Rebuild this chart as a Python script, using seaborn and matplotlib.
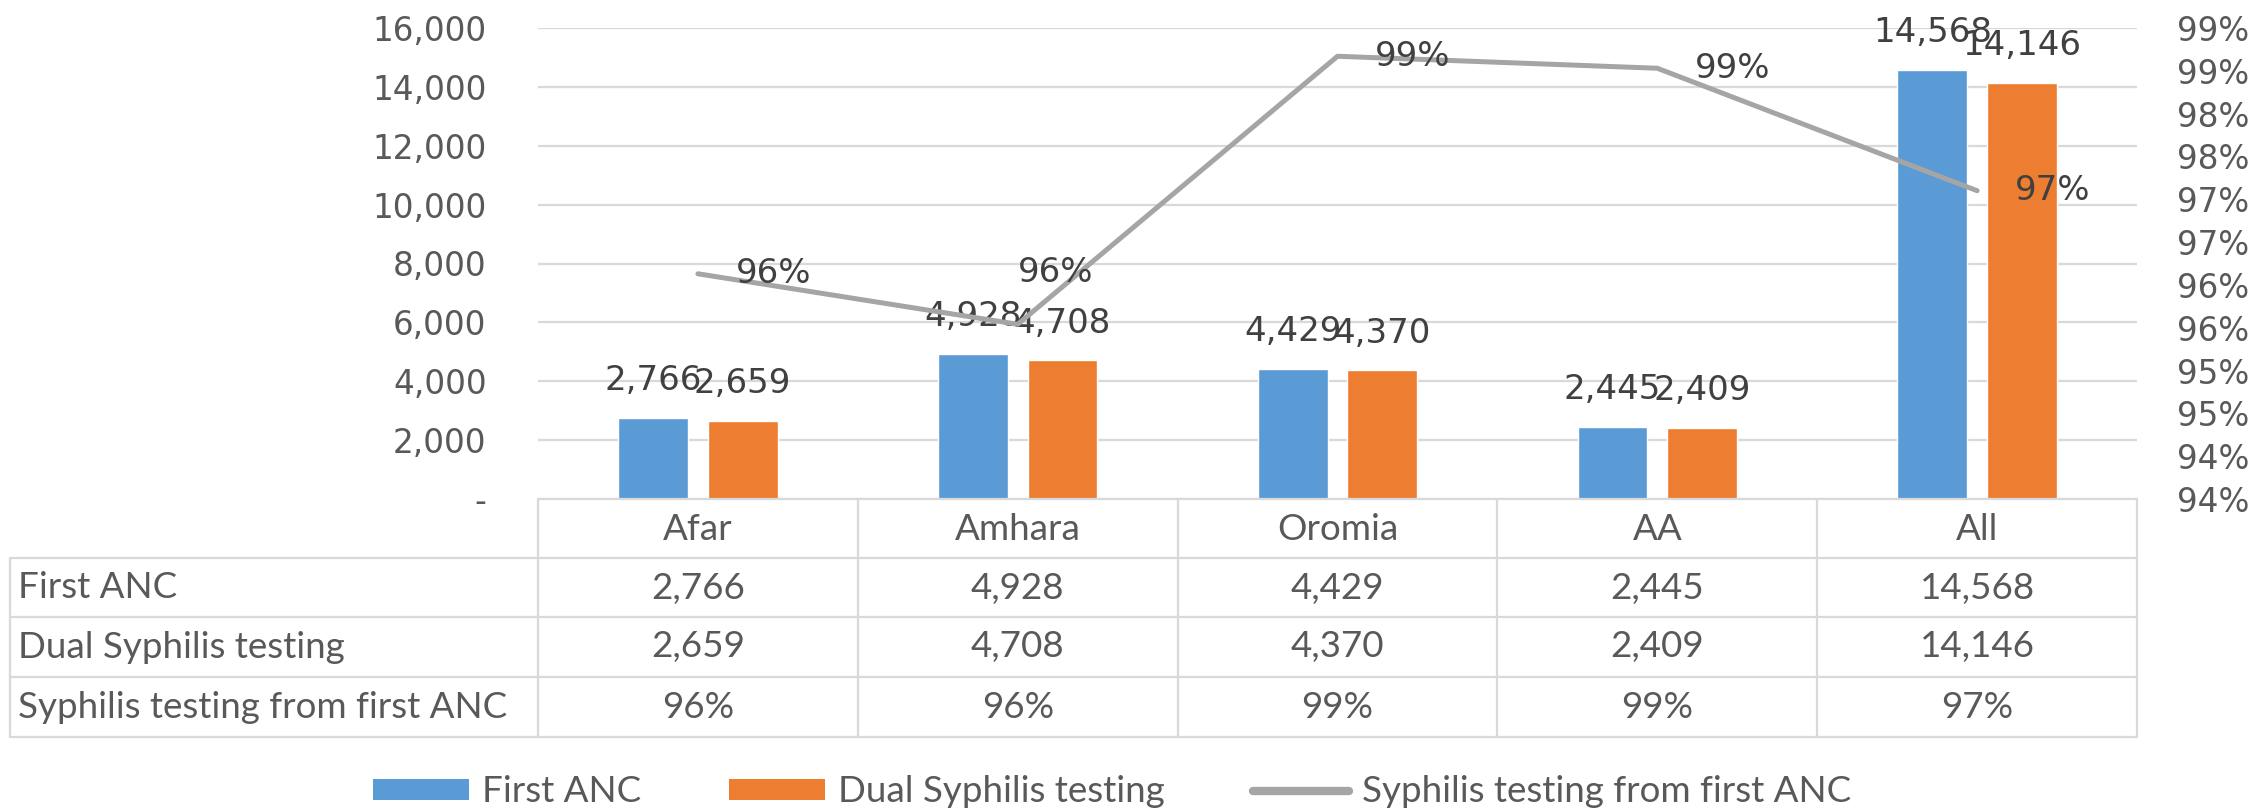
import numpy as np
import pandas as pd
import matplotlib
matplotlib.use("Agg")
import matplotlib.pyplot as plt
import seaborn as sns
from matplotlib.patches import Patch
from matplotlib.lines import Line2D
from matplotlib.transforms import blended_transform_factory

# ---------------- data ----------------
categories = ["Afar", "Amhara", "Oromia", "AA", "All"]
first_anc = [2766, 4928, 4429, 2445, 14568]
dual_syphilis = [2659, 4708, 4370, 2409, 14146]
pct_tested = [0.9613, 0.9554, 0.9867, 0.9853, 0.9710]
pct_labels = ["96%", "96%", "99%", "99%", "97%"]
series_names = ["First ANC", "Dual Syphilis testing", "Syphilis testing from first ANC"]
left_ticks = [0, 2000, 4000, 6000, 8000, 10000, 12000, 14000, 16000]
left_tick_labels = ["-", "2,000", "4,000", "6,000", "8,000", "10,000", "12,000", "14,000", "16,000"]
right_ticks = [0.935, 0.940, 0.945, 0.950, 0.955, 0.960, 0.965, 0.970, 0.975, 0.980, 0.985, 0.990]
right_tick_labels = ["94%", "94%", "95%", "95%", "96%", "96%", "97%", "97%", "98%", "98%", "99%", "99%"]

# ---------------- style ----------------
BLUE = "#5B9BD5"
ORANGE = "#ED7D31"
GRAY = "#A5A5A5"
AXIS_TXT = "#595959"
LABEL_TXT = "#404040"
GRID = "#D9D9D9"
W, H = 2252, 808

sns.set_theme(style="white")
plt.rcParams["font.family"] = ["DejaVu Sans"]
TABLE_FONT = ["Lato", "DejaVu Sans"]
TABLE_SIZE = 26.5

fig = plt.figure(figsize=(W / 100, H / 100), dpi=100)
fig.patch.set_facecolor("white")

# plot area: x 538..2137 px, y 28..499 px
ax = fig.add_axes([538 / W, 1 - 499 / H, (2137 - 538) / W, (499 - 28) / H])

df = pd.DataFrame({
    "Region": categories * 2,
    "Count": first_anc + dual_syphilis,
    "Series": [series_names[0]] * len(categories) + [series_names[1]] * len(categories),
})
sns.barplot(data=df, x="Region", y="Count", hue="Series", order=categories,
            hue_order=series_names[:2], palette=[BLUE, ORANGE], saturation=1,
            width=0.56, gap=0.22, ax=ax, legend=False, errorbar=None)

ax.set_xlim(-0.5, len(categories) - 0.5)
ax.set_ylim(left_ticks[0], left_ticks[-1])
ax.set_yticks(left_ticks)
ax.set_yticklabels(left_tick_labels)
ax.tick_params(axis="y", length=0, pad=37, labelsize=23.5, labelcolor=AXIS_TXT)
ax.set_xticks([])
ax.set_xlabel("")
ax.set_ylabel("")
ax.yaxis.grid(True, color=GRID, lw=1.6)
ax.set_axisbelow(True)
for s in ax.spines.values():
    s.set_visible(False)

for cont, vals in zip(ax.containers, [first_anc, dual_syphilis]):
    ax.bar_label(cont, labels=[f"{v:,}" for v in vals], padding=15,
                 fontsize=24.5, color=LABEL_TXT)

# secondary axis with the line
ax2 = ax.twinx()
sns.lineplot(x=categories, y=pct_tested, ax=ax2, color=GRAY, lw=3.6, sort=False)
ax2.set_ylim(right_ticks[0], right_ticks[-1])
ax2.set_yticks(right_ticks)
ax2.set_yticklabels(right_tick_labels)
ax2.tick_params(axis="y", length=0, pad=29, labelsize=23.5, labelcolor=AXIS_TXT)
ax2.set_ylabel("")
ax2.grid(False)
for s in ax2.spines.values():
    s.set_visible(False)

label_offsets = [(27, 0), (0, 37), (27, 0), (27, 0), (27, 0)]
for i, (v, lab) in enumerate(zip(pct_tested, pct_labels)):
    ax2.annotate(lab, (i, v), xytext=label_offsets[i], textcoords="offset points",
                 ha="left", va="center", fontsize=24.5, color=LABEL_TXT)

# ---------------- data table ----------------
bt = blended_transform_factory(ax.transData, fig.transFigure)
ft = fig.transFigure
fy = lambda y: 1 - y / H
fx = lambda x: x / W

rows_y = [499, 558, 617, 677, 737]
lw_t = 1.6
fig.add_artist(Line2D([-0.5, len(categories) - 0.5], [fy(499), fy(499)], transform=bt, color=GRID, lw=lw_t))
for y in rows_y[1:]:
    fig.add_artist(Line2D([fx(10), fx(2137)], [fy(y), fy(y)], transform=ft, color=GRID, lw=lw_t))
fig.add_artist(Line2D([fx(10), fx(10)], [fy(558), fy(737)], transform=ft, color=GRID, lw=lw_t))
for i in range(len(categories) + 1):
    xb = i - 0.5
    fig.add_artist(Line2D([xb, xb], [fy(499), fy(737)], transform=bt, color=GRID, lw=lw_t))

row_centers = [529, 588, 647, 707]
for i, cat in enumerate(categories):
    cells = [cat, f"{first_anc[i]:,}", f"{dual_syphilis[i]:,}", pct_labels[i]]
    for txt, yc in zip(cells, row_centers):
        fig.text(i, fy(yc), txt, transform=bt, ha="center", va="center",
                 fontsize=TABLE_SIZE, color=AXIS_TXT, family=TABLE_FONT)
for name, yc in zip(series_names, row_centers[1:]):
    fig.text(fx(18), fy(yc), name, ha="left", va="center", fontsize=TABLE_SIZE,
             color=AXIS_TXT, family=TABLE_FONT)

# ---------------- legend ----------------
handles = [Patch(facecolor=BLUE, edgecolor="none"),
           Patch(facecolor=ORANGE, edgecolor="none"),
           Line2D([0], [0], color=GRAY, lw=6)]
leg = fig.legend(handles, series_names, loc="center", bbox_to_anchor=(1112 / W, fy(792)),
                 ncol=3, frameon=False, prop={"family": TABLE_FONT, "size": TABLE_SIZE},
                 handlelength=2.6, handleheight=0.52, handletextpad=0.35, columnspacing=2.4)
for t in leg.get_texts():
    t.set_color(AXIS_TXT)

fig.savefig("out.png", dpi=100, facecolor="white")
